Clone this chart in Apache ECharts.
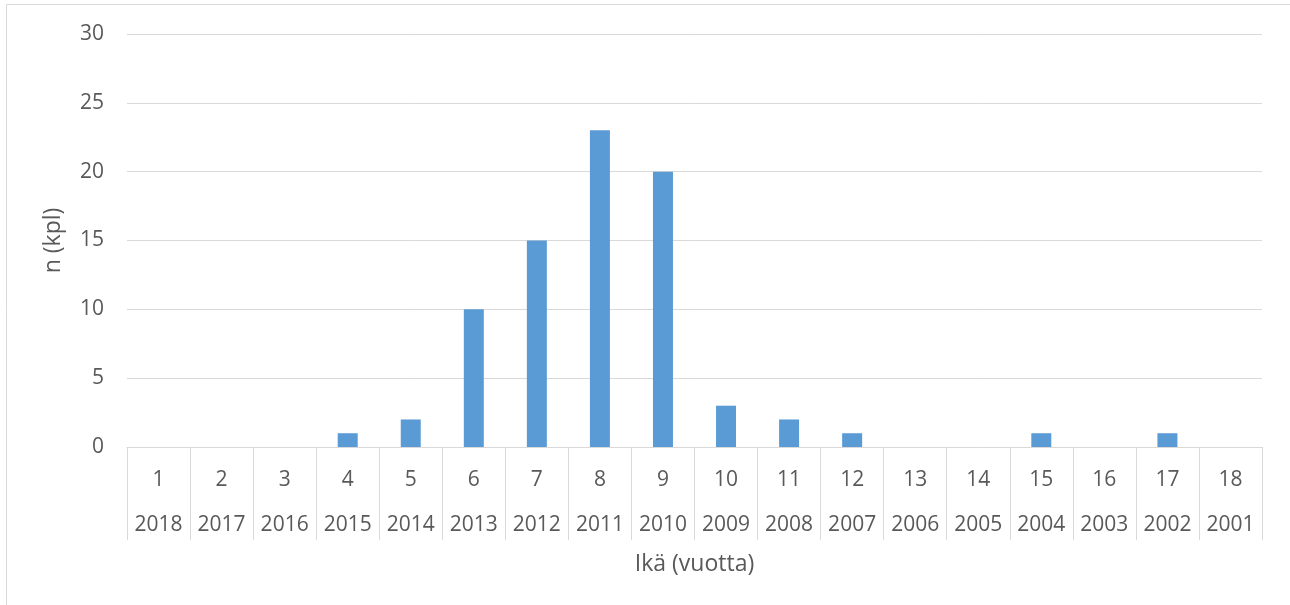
<!DOCTYPE html>
<html>
<head>
<meta charset="utf-8">
<script src="https://cdn.jsdelivr.net/npm/echarts@6/dist/echarts.min.js"></script>
<style>
  html, body { margin: 0; padding: 0; background: #fff; }
  #chart { width: 1290px; height: 605px; }
</style>
</head>
<body>
<div id="chart"></div>
<script>
// Age classes (years) and the matching year classes
const ages = ['1','2','3','4','5','6','7','8','9','10','11','12','13','14','15','16','17','18'];
const years = ['2018','2017','2016','2015','2014','2013','2012','2011','2010','2009','2008','2007','2006','2005','2004','2003','2002','2001'];
// Number of fish per age class
const counts = [0, 0, 0, 1, 2, 10, 15, 23, 20, 3, 2, 1, 0, 0, 1, 0, 1, 0];
// Value axis ticks
const yTicks = [0, 5, 10, 15, 20, 25, 30];

const FONT = '"Open Sans", "Liberation Sans", sans-serif';
const TXT = '#595959';
const LINE = '#d9d9d9';

const chart = echarts.init(document.getElementById('chart'), null, { renderer: 'canvas' });

chart.setOption({
  animation: false,
  backgroundColor: '#ffffff',
  textStyle: { fontFamily: FONT },
  graphic: [{
    type: 'rect',
    shape: { x: 6.5, y: 4.5, width: 1300, height: 700 },
    style: { fill: 'none', stroke: LINE, lineWidth: 1 },
    silent: true
  }],
  grid: { left: 127, right: 28, top: 34, bottom: 158, containLabel: false },
  xAxis: {
    type: 'category',
    data: ages,
    name: 'Ikä (vuotta)',
    nameLocation: 'middle',
    nameGap: 102,
    nameTextStyle: { color: TXT, fontSize: 23, fontFamily: FONT },
    axisLine: { show: true, lineStyle: { color: LINE, width: 1 } },
    axisTick: { show: true, length: 93, interval: 0, lineStyle: { color: LINE, width: 1 } },
    axisLabel: {
      interval: 0,
      color: TXT,
      fontSize: 21,
      fontFamily: FONT,
      lineHeight: 45,
      margin: 11,
      formatter: (v, i) => v + '\n' + years[i]
    },
    splitLine: { show: false }
  },
  yAxis: {
    type: 'value',
    min: yTicks[0],
    max: yTicks[yTicks.length - 1],
    interval: yTicks[1] - yTicks[0],
    name: 'n (kpl)',
    nameLocation: 'middle',
    nameGap: 62,
    nameTextStyle: { color: TXT, fontSize: 23, fontFamily: FONT },
    axisLine: { show: false },
    axisTick: { show: false },
    axisLabel: { color: TXT, fontSize: 21, fontFamily: FONT, margin: 23 },
    splitLine: { lineStyle: { color: LINE, width: 1 } }
  },
  series: [{
    type: 'bar',
    data: counts,
    barWidth: 20,
    itemStyle: { color: '#5B9BD5' }
  }]
});
</script>
</body>
</html>
